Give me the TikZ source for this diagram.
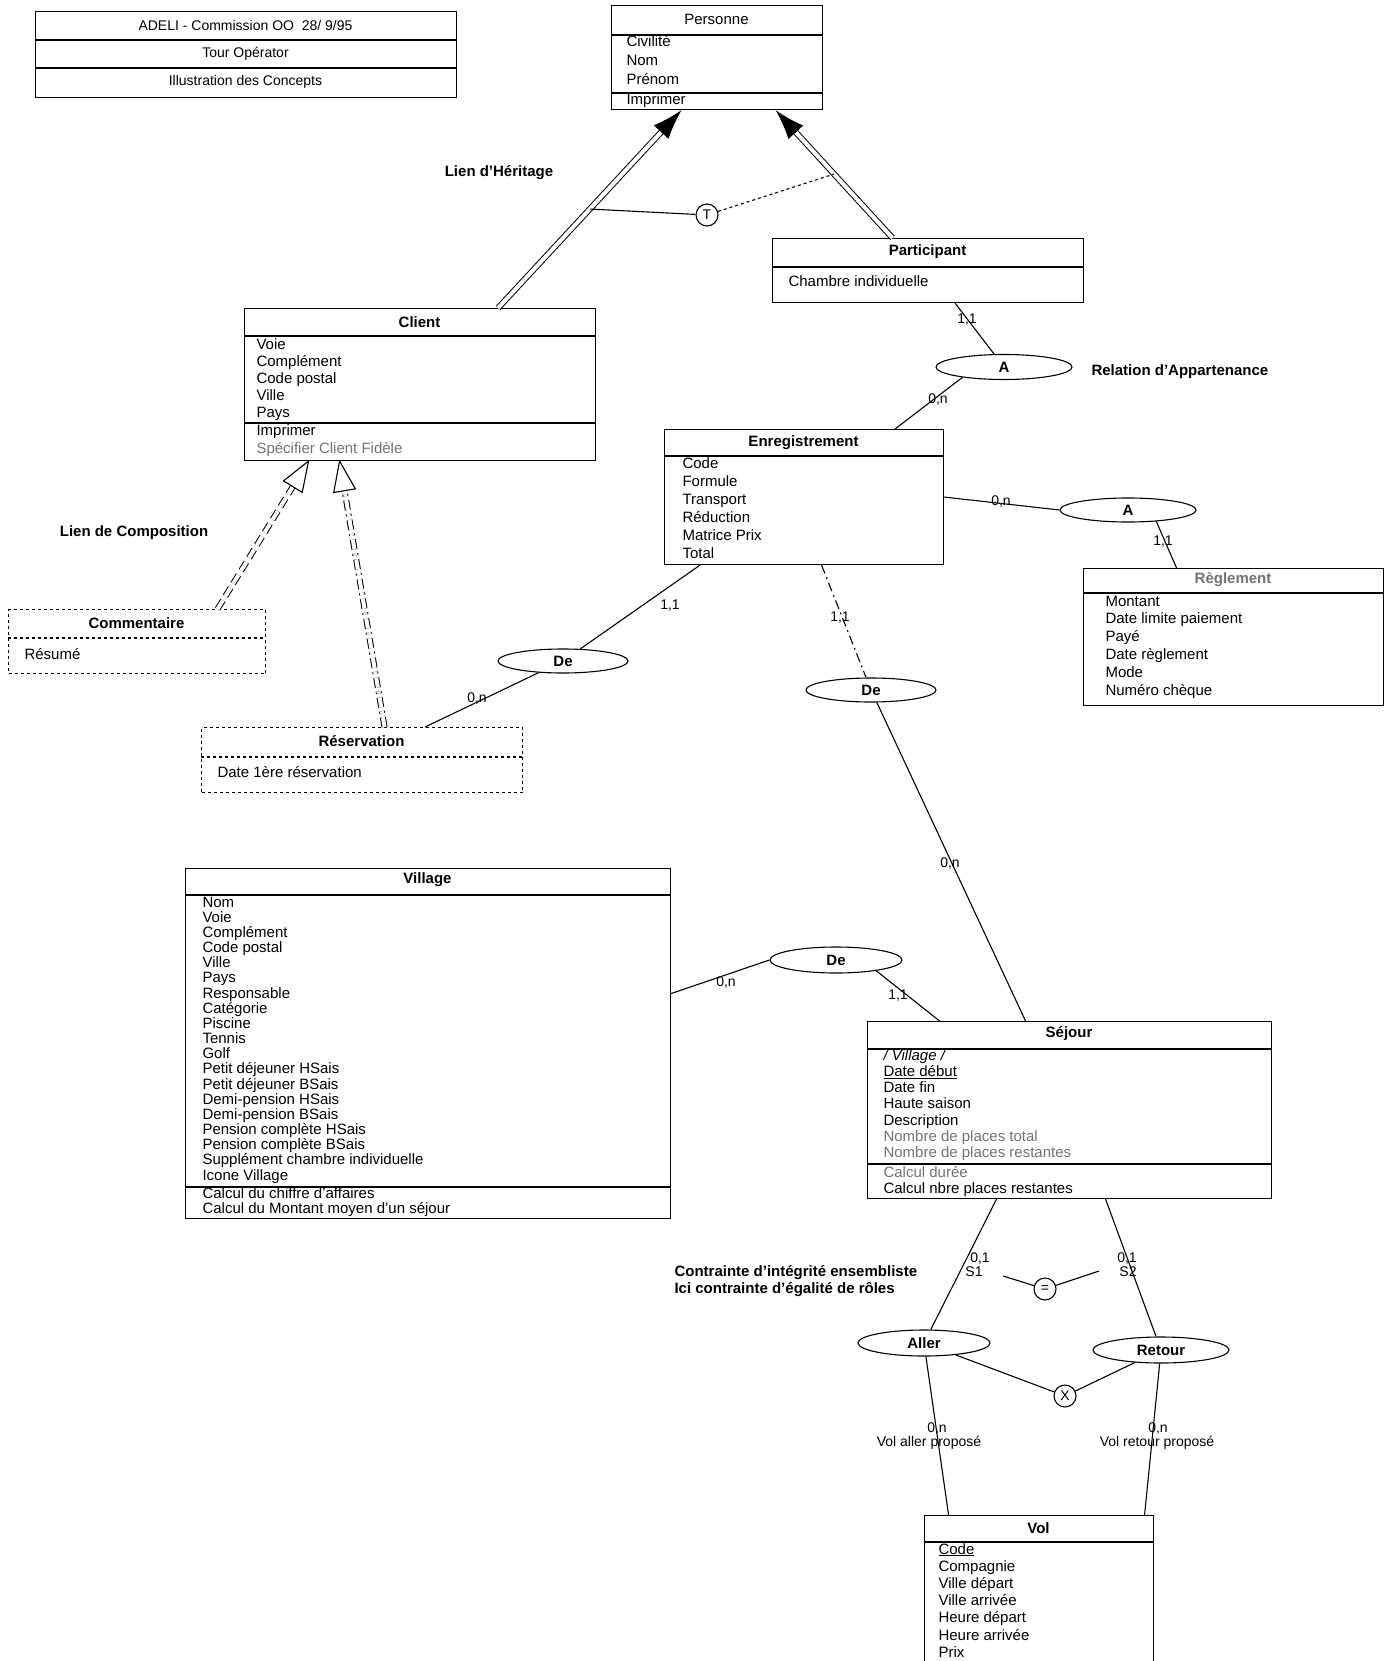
\documentclass[tikz,border=0pt]{standalone}
\usepackage{fontspec}
\setmainfont{Liberation Sans}
\usetikzlibrary{shapes.geometric,calc,arrows.meta}
\newcommand\fsz{\fontsize{15}{16}\selectfont}
\newcommand\fsm{\fontsize{14}{15}\selectfont}
\begin{document}
\begin{tikzpicture}[x=1pt,y=-1pt,line width=1.1pt,
  cls/.style={draw,rectangle,inner sep=0pt,anchor=north west},
  att/.style={anchor=base west,inner sep=0pt,font=\fsz},
  hdr/.style={anchor=center,inner sep=0pt,font=\fsz\bfseries},
  rel/.style={draw,ellipse,inner sep=0pt,font=\fsz\bfseries},
  cons/.style={draw,circle,minimum size=22pt,inner sep=0pt,font=\fsm},
  mult/.style={inner sep=0pt,font=\fsm},
  note/.style={inner sep=0pt,font=\fsz\bfseries},
  dbl/.style={double,double distance=4pt,line width=1pt},
  faded/.style={text=black!55}]
\useasboundingbox (0,0) rectangle (1388,1661);
\clip (0,0) rectangle (1388,1661);

% ---------- title box
\node[cls,minimum width=421pt,minimum height=86pt] (title) at (35,11) {};
\draw (35,40) -- (456,40);
\draw (35,68) -- (456,68);
\node[inner sep=0pt,font=\fsm] (t-a) at (245.5,26) {ADELI - Commission OO\ \ 28/ 9/95};
\node[inner sep=0pt,font=\fsm] (t-b) at (245.5,54) {Tour Opérator};
\node[inner sep=0pt,font=\fsm] (t-c) at (245.5,82) {Illustration des Concepts};

% ---------- Personne
\node[cls,minimum width=211pt,minimum height=104pt] (personne) at (611,5) {};
\draw (611,35) -- (822,35);
\draw (611,93) -- (822,93);
\node[inner sep=0pt,font=\fsz] (personne-h) at (716.5,19) {Personne};
\foreach \t [count=\i from 0] in {Civilité,Nom,Prénom}
  \node[att] (personne-a\i) at (626,{47+19*\i}) {\t};
\node[att] (personne-o) at (626,105) {Imprimer};

% ---------- Participant
\node[cls,minimum width=311pt,minimum height=64pt] (part) at (772,238) {};
\draw (772,267) -- (1083,267);
\node[hdr] (part-h) at (927.5,252) {Participant};
\node[att] (part-a) at (788,287) {Chambre individuelle};

% ---------- Client
\node[cls,minimum width=351pt,minimum height=152pt] (client) at (244,308) {};
\draw (244,336) -- (595,336);
\draw (244,423) -- (595,423);
\node[hdr] (client-h) at (419.5,322) {Client};
\foreach \t [count=\i from 0] in {Voie,Complément,Code postal,Ville,Pays}
  \node[att] (client-a\i) at (256,{349+17*\i}) {\t};
\node[att] (client-o1) at (256,435) {Imprimer};
\node[att,faded] (client-o2) at (256,453) {Spécifier Client Fidèle};

% ---------- Enregistrement
\node[cls,minimum width=279pt,minimum height=135pt] (enreg) at (664,429) {};
\draw (664,456) -- (943,456);
\node[hdr] (enreg-h) at (803.5,443) {Enregistrement};
\foreach \t [count=\i from 0] in {Code,Formule,Transport,Réduction,Matrice Prix,Total}
  \node[att] (enreg-a\i) at (682,{468+18*\i}) {\t};

% ---------- Reglement
\node[cls,minimum width=300pt,minimum height=137pt] (reg) at (1083,568) {};
\draw (1083,593) -- (1383,593);
\node[hdr,faded] (reg-h) at (1233,580) {Règlement};
\foreach \t [count=\i from 0] in {Montant,Date limite paiement,Payé,Date règlement,Mode,Numéro chèque}
  \node[att] (reg-a\i) at (1105,{606+17.9*\i}) {\t};

% ---------- Commentaire
\node[cls,dashed,minimum width=257pt,minimum height=64pt] (comm) at (8,609) {};
\draw[dashed] (8,638) -- (265,638);
\node[hdr] (comm-h) at (136.5,623) {Commentaire};
\node[att] (comm-a) at (24,659) {Résumé};

% ---------- Reservation
\node[cls,dashed,minimum width=321pt,minimum height=65pt] (resa) at (201,727) {};
\draw[dashed] (201,757) -- (522,757);
\node[hdr] (resa-h) at (361.5,741) {Réservation};
\node[att] (resa-a) at (217,777) {Date 1ère réservation};

% ---------- Village
\node[cls,minimum width=485pt,minimum height=350pt] (village) at (185,868) {};
\draw (185,895) -- (670,895);
\draw (185,1187) -- (670,1187);
\node[hdr] (village-h) at (427.5,880) {Village};
\foreach \t [count=\i from 0] in {Nom,Voie,Complément,Code postal,Ville,Pays,Responsable,Catégorie,Piscine,Tennis,Golf,Petit déjeuner HSais,Petit déjeuner BSais,Demi-pension HSais,Demi-pension BSais,Pension complète HSais,Pension complète BSais,Supplément chambre individuelle,Icone Village}
  \node[att] (village-a\i) at (202,{907+15.17*\i}) {\t};
\node[att] (village-o1) at (202,1198) {Calcul du chiffre d'affaires};
\node[att] (village-o2) at (202,1213) {Calcul du Montant moyen d'un séjour};

% ---------- Sejour
\node[cls,minimum width=404pt,minimum height=177pt] (sejour) at (867,1021) {};
\draw (867,1049) -- (1271,1049);
\draw (867,1164) -- (1271,1164);
\node[hdr] (sejour-h) at (1069,1034) {Séjour};
\node[att] (sejour-a0) at (883,1060) {\itshape / Village /};
\node[att] (sejour-a1) at (883,1076.3) {\underline{Date début}};
\foreach \t [count=\i from 2] in {Date fin,Haute saison,Description}
  \node[att] (sejour-a\i) at (883,{1060+16.3*\i}) {\t};
\node[att,faded] (sejour-a5) at (883,1141.5) {Nombre de places total};
\node[att,faded] (sejour-a6) at (883,1157.8) {Nombre de places restantes};
\node[att,faded] (sejour-o1) at (883,1177) {Calcul durée};
\node[att] (sejour-o2) at (883,1193) {Calcul nbre places restantes};

% ---------- Vol
\node[cls,minimum width=229pt,minimum height=160pt] (vol) at (924,1515) {};
\draw (924,1542) -- (1153,1542);
\node[hdr] (vol-h) at (1038.5,1528) {Vol};
\node[att] (vol-a0) at (938,1554) {\underline{Code}};
\foreach \t [count=\i from 1] in {Compagnie,Ville départ,Ville arrivée,Heure départ,Heure arrivée,Prix}
  \node[att] (vol-a\i) at (938,{1554+17.2*\i}) {\t};

% ---------- relations (ellipses)
\node[rel,minimum width=136pt,minimum height=25pt] (a1) at (1004,367) {A};
\node[rel,minimum width=136pt,minimum height=24pt] (a2) at (1128,510) {A};
\node[rel,minimum width=130pt,minimum height=24pt] (de1) at (563,661) {De};
\node[rel,minimum width=130pt,minimum height=24pt] (de2) at (871,690) {De};
\node[rel,minimum width=132pt,minimum height=26pt] (de3) at (836,960) {De};
\node[rel,minimum width=132pt,minimum height=26pt] (aller) at (924,1343) {Aller};
\node[rel,minimum width=136pt,minimum height=26pt] (retour) at (1161,1350) {Retour};

% ---------- constraint circles
\node[cons] (tc) at (707,215) {T};
\node[cons] (eqc) at (1045,1289) {=};
\node[cons] (xc) at (1065,1396) {X};

% ---------- inheritance links
\coordinate (s1) at ([xshift=78pt]client.north);
\coordinate (t1) at ([xshift=-35.5pt]personne.south);
\coordinate (s2) at ([xshift=-35.5pt]part.north);
\coordinate (t2) at ([xshift=58.5pt]personne.south);
\draw[dbl,shorten >=26pt] (s1) -- (t1);
\draw[-{Latex[length=30pt,width=20pt]}] ($(t1)!30pt!(s1)$) -- (t1);
\draw[dbl,shorten >=26pt] (s2) -- (t2);
\draw[-{Latex[length=30pt,width=20pt]}] ($(t2)!30pt!(s2)$) -- (t2);
\coordinate (h1) at ($(s1)!0.5!(t1)$);
\coordinate (h2) at ($(s2)!0.5!(t2)$);
\draw (h1) -- (tc);
\draw[dashed] (tc) -- (h2);

% ---------- composition links
\coordinate (s3) at ([xshift=80.5pt]comm.north);
\coordinate (t3) at ([xshift=-111.5pt]client.south);
\coordinate (s4) at ([xshift=22.5pt]resa.north);
\coordinate (t4) at ([xshift=-80.5pt]client.south);
\draw[dbl,dash pattern=on 10pt off 5pt,shorten >=30pt] (s3) -- (t3);
\draw[dbl,dash pattern=on 10pt off 4pt on 2pt off 4pt,shorten >=30pt] (s4) -- (t4);
\coordinate (m3) at ($(t3)!30pt!(s3)$);
\coordinate (m4) at ($(t4)!30pt!(s4)$);
\draw[fill=white] (t3) -- ($(m3)!11pt!90:(t3)$) -- ($(m3)!11pt!-90:(t3)$) -- cycle;
\draw[fill=white] (t4) -- ($(m4)!11pt!90:(t4)$) -- ($(m4)!11pt!-90:(t4)$) -- cycle;

% ---------- association connectors
\draw ([xshift=27pt]part.south) -- (a1);
\draw (a1.194) -- ([xshift=91pt]enreg.north);
\draw (enreg.east) -- (a2.west);
\draw (a2.338) -- ([xshift=-57pt]reg.north);
\draw ([xshift=-104pt]enreg.south) -- (de1);
\draw (de1) -- ([xshift=63pt]resa.north);
\draw[dash pattern=on 9pt off 4pt on 2pt off 4pt] ([xshift=17.5pt]enreg.south) -- (de2);
\draw (de2) -- ([xshift=-44pt]sejour.north);
\draw ([yshift=50pt]village.east) -- (de3.west);
\draw (de3.345) -- ([xshift=-130pt]sejour.north);
\draw ([xshift=-73pt]sejour.south) -- (aller);
\draw ([xshift=36pt]sejour.south) -- (retour);
\draw (aller) -- ([xshift=-90.5pt]vol.north);
\draw (retour) -- ([xshift=105.5pt]vol.north);
\draw (aller) -- (xc);
\draw (xc) -- (retour);
\coordinate (eqL) at (1003,1276);
\coordinate (eqR) at (1099,1271);
\draw (eqL) -- (eqc);
\draw (eqc) -- (eqR);

% ---------- multiplicities
\node[mult] (m-1) at (967,320) {1,1};
\node[mult] (m-2) at (938,400) {0,n};
\node[mult] (m-3) at (1001,502) {0,n};
\node[mult] (m-4) at (1163,542) {1,1};
\node[mult] (m-5) at (670,606) {1,1};
\node[mult] (m-6) at (477,699) {0,n};
\node[mult] (m-7) at (840,618) {1,1};
\node[mult] (m-8) at (950,863) {0,n};
\node[mult] (m-9) at (726,982) {0,n};
\node[mult] (m-10) at (898,996) {1,1};
\node[mult] (m-11) at (980,1258) {0,1};
\node[mult] (m-12) at (974,1272) {S1};
\node[mult] (m-13) at (1127,1258) {0,1};
\node[mult] (m-14) at (1128,1272) {S2};
\node[mult] (m-15) at (937,1428) {0,n};
\node[mult] (m-16) at (929,1443) {Vol aller proposé};
\node[mult] (m-17) at (1158,1428) {0,n};
\node[mult] (m-18) at (1157,1443) {Vol retour proposé};

% ---------- notes
\node[note] (n-her) at (499,173) {Lien d'Héritage};
\node[note] (n-comp) at (134,533) {Lien de Composition};
\node[note,anchor=west] (n-app) at (1091,372) {Relation d'Appartenance};
\node[note,anchor=west] (n-c1) at (674,1273) {Contrainte d'intégrité ensembliste};
\node[note,anchor=west] (n-c2) at (674,1289) {Ici contrainte d'égalité de rôles};
\end{tikzpicture}
\end{document}
